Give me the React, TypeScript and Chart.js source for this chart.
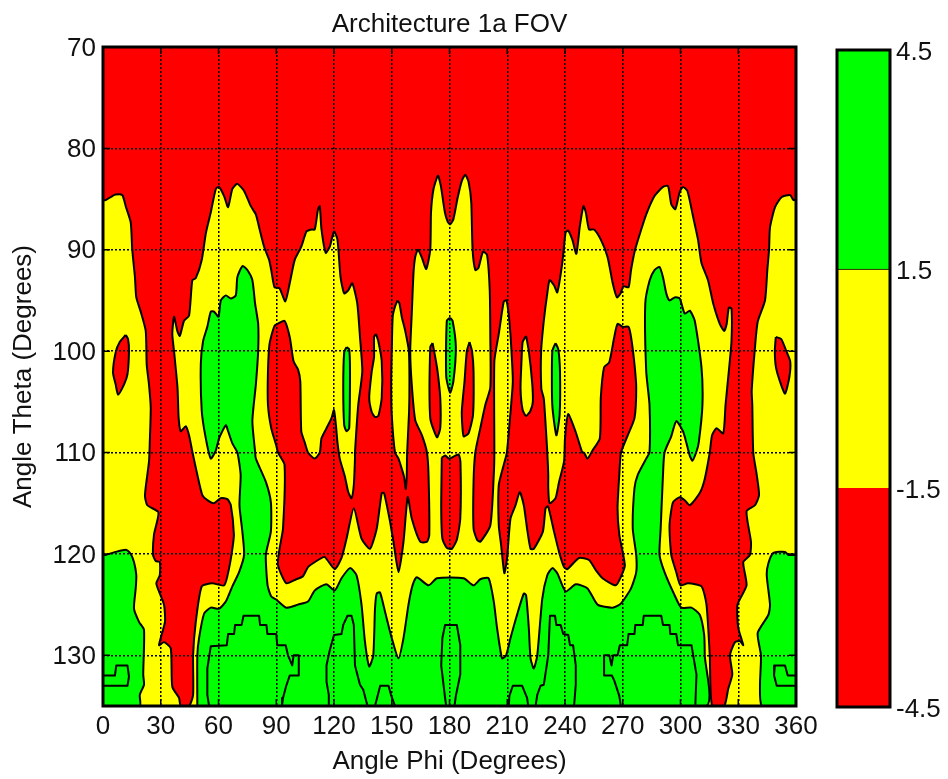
import React, { useEffect, useRef } from "react";
import { Chart, registerables } from "chart.js";

Chart.register(...registerables);

const chartTitle = "Architecture 1a FOV";
const xAxisTitle = "Angle Phi (Degrees)";
const yAxisTitle = "Angle Theta (Degrees)";
const phiRange = [0, 360];
const thetaRange = [70, 135];
const colorTicks = [-4.5, -1.5, 1.5, 4.5];
const colorBands = [
  { range: [-4.5, -1.5], color: "#ff0000" },
  { range: [-1.5, 1.5], color: "#ffff00" },
  { range: [1.5, 4.5], color: "#00ff00" },
];

const RED = "#ff0000";
const YELLOW = "#ffff00";
const GREEN = "#00ff00";

type P = number[];

const fieldOutline: P[] = [[0, 70], [360, 70], [360, 135], [0, 135]];

// boundary between red and yellow (level -1.5)
const yellowContour: P[] = [
  [0, 85.1], [1.4, 85.1], [4.9, 84.7], [6.6, 84.55], [10, 84.6], [11.8, 85.7], [14.4, 87.3], [15.2, 90], [16.6, 92.7], [17.3, 94.7], [19.6, 96.1], [22.2, 98], [22.7, 101.3], [23.9, 103.3], [24.8, 105.6], [24.3, 109], [23.9, 110.9], [21.8, 114.2], [23, 115.2], [28.8, 115.9], [26.5, 118.1], [26, 120.1], [27.4, 120.7], [29.5, 120.8], [29.5, 122.1], [27.7, 122.9], [29.1, 123.7], [31.7, 125], [32.2, 126.7], [29.1, 129], [31.7, 128.7], [35.2, 129.3], [36, 133.1], [39.5, 134.2], [40.4, 135],
  [44.7, 135], [46.8, 133.9], [46.8, 130], [48.2, 126.7], [51.3, 123.2], [56.8, 122.9], [63, 123.1], [65.5, 121.4], [67.2, 119.5], [68, 118.1], [66.4, 115.2], [64.6, 114.6], [61.2, 114.5], [57.7, 115], [54.2, 114.7], [51.6, 114.2], [49, 112.2], [46.4, 109.9], [44.7, 108.3], [43, 107.4], [40.4, 107.9], [39.3, 106.6], [38.7, 103.6], [36.9, 100], [36, 98.3], [36.9, 96.6], [38.6, 98], [39.9, 98.5], [42.1, 97], [44.7, 96.5], [46.4, 93], [48.2, 92.8], [51.3, 91], [53.5, 88.3], [56, 86.3], [58.6, 84], [60.3, 83.8], [62.9, 84.7], [65, 85.8], [67.2, 84], [69.8, 83.5], [73.3, 84.2], [76.8, 85.7], [79.4, 86.5], [81, 87.7], [83.7, 89.7], [86.3, 91], [87.4, 92], [89.1, 93.7], [91.7, 93.8], [94.7, 95.1], [97, 93.3], [99.6, 91], [103, 89.7], [105.7, 88.2], [108.3, 88], [110, 88], [111.7, 86], [112.6, 85.7], [113.5, 88], [115.7, 90.3], [117.8, 89.7], [120, 88.2], [121.8, 89], [123.4, 92.7], [125.3, 94.3], [127.4, 94], [129.5, 93.3], [132.1, 95.3], [133.5, 98.6], [134.7, 102], [132.6, 105.3], [130.9, 110], [130.9, 110.6], [130.3, 113.2], [129.1, 114.5],
  [127.4, 113.9], [125.7, 112.4], [123, 110.6], [121.8, 109], [121, 107.3], [120, 105.8], [118.7, 106.6], [116.1, 107.6], [113.5, 108.6], [112.6, 110], [110, 110.6], [106.5, 110], [104.8, 109], [103, 107.9], [102.5, 103], [101.3, 101.8], [99, 101], [97, 98.6], [94.3, 97], [91.7, 97.2], [89.1, 97.5], [86.5, 99.3], [85.7, 102], [85.7, 105.3], [87.4, 107.6], [90, 109.3], [90.9, 110], [94.3, 111.2], [93.5, 117.5], [91.7, 119.5], [90.9, 121.1], [95.2, 122.9], [100.4, 122.5], [103.9, 122.2], [106.5, 121.3], [112.6, 120.5], [115.2, 120.3], [120.4, 121.5], [123.9, 120.4], [126.5, 118.5], [130.3, 115.5], [134.3, 118.5], [138.7, 119.5], [142.2, 117.5], [144.8, 114], [146, 114], [149.1, 116.8], [150.9, 118.8], [153.5, 121.8], [156.1, 118.8], [158.3, 114.4], [160.4, 116.5], [164.8, 118.8], [168.3, 118.8], [169.5, 118.1], [169.1, 112.2], [168.3, 110], [165.7, 108.3], [162.2, 106.8], [160.4, 103.3], [159.6, 100], [160.4, 96.3], [161.3, 92.3], [162.2, 90.7], [163.6, 90], [165.7, 90.8], [167.9, 91.9], [170, 90], [170.4, 86.3], [171.7, 84], [174, 82.7], [175.5, 83.7], [177.6, 86.3], [179, 87.2], [180.3, 87.5], [182, 87], [184.2, 84.9], [186.4, 83.2], [188.2, 82.6], [189.9, 83.3], [191.3, 85.3], [192, 90], [193.4, 92], [195, 91.8], [197.4, 90.2], [199.5, 90.5], [200.9, 94], [201.2, 98.6], [201.2, 103.6], [198.6, 105.3], [196, 107.6], [193.4, 110], [192.5, 112.9], [192.5, 117.5], [194.3, 118.6], [196, 118.8], [201.2, 117.2], [203, 112.2], [203.3, 110], [203.3, 101], [205.6, 98.3], [208.2, 95.1], [209.6, 95], [211.1, 97], [212.2, 100], [212.9, 103], [211.7, 106], [209.8, 110], [208.2, 111.2], [205.6, 113.2], [205.6, 117.2], [206.8, 119.1], [208.5, 121.9], [209.9, 120.4], [211.7, 116.5], [214.3, 115.2], [216.5, 113.9], [218.6, 115.2], [220.3, 117.5], [222.1, 119.5], [223.8, 119.5], [228.5, 117.8], [229.9, 115.5], [231.2, 115.3],
  [234.3, 117.8], [236.9, 119.8], [239.5, 121.3], [241.2, 121.5], [247.3, 120.4], [252.5, 120.6], [256, 121.6], [259.5, 122.4], [266.4, 123.1], [269.4, 122.1], [271.1, 121.1], [268.2, 118.1], [267.3, 115.5], [268.2, 112.2], [269.1, 110], [272.6, 108.3], [276.1, 106.6], [277, 103.6], [276.1, 101.3], [274.3, 98.6], [273, 97.6], [270, 97.6], [267.3, 97.3], [265.6, 98.6], [263, 101.1], [260.3, 101.6], [258.6, 104.6], [258.1, 108.6], [254.3, 109.8], [251.7, 110.6], [249.9, 110], [249, 110], [245.6, 108], [241.6, 106.2], [240, 108.6], [239.5, 110.9], [236.9, 112.9], [235.1, 114.5], [232, 115], [231.3, 113.5], [231.3, 112.2], [230.8, 110], [229, 104.7], [227.7, 103.7], [227.6, 100], [229, 97], [230.8, 94.3], [232, 93], [234.3, 93.5], [236, 94.2], [238.6, 91.3], [240.3, 88.3], [241.6, 88.1], [243.8, 89], [245.9, 90.4], [247.7, 87.7], [249.6, 85.7], [250.8, 86.3], [252.5, 88], [255.1, 88], [258.6, 89], [262.1, 90.7], [264.8, 93.3], [267, 94.7], [268.9, 94.3], [270.3, 93.6], [273, 93.7], [274.3, 92], [276.4, 90], [279.6, 88], [282.2, 86.5], [286.5, 84.7], [290.9, 83.8], [293.5, 83.7], [295.2, 85.5], [297.3, 86], [299.6, 84.3], [301.3, 83.8], [303.6, 84.2], [306.5, 86.7], [309.1, 89], [310.9, 91.3], [314.3, 93], [317, 95.3], [320.4, 97.3], [322.7, 98], [324, 97.3], [325.1, 95.7], [326.5, 95.8], [326.5, 99], [325.1, 102], [323.4, 105.3], [322.2, 108.1], [318.7, 107.6], [316.4, 108.3], [315.2, 110], [312.6, 112.6], [310, 114], [304.8, 115.2], [302.2, 114.7], [299.6, 114.4], [296.1, 114.9], [294.3, 117.2], [295.2, 120.1], [297.8, 121.8], [300, 123.1], [303.9, 122.9], [310.9, 123.2], [313.5, 125], [315.2, 130], [316.4, 135],
  [322.7, 135], [324.8, 133.3], [326.9, 131.9], [325.7, 130], [328.3, 128.7], [330.9, 128.6], [332.6, 129], [330, 127.3], [329.6, 125], [334.3, 123.1], [332.6, 120.8], [336.1, 120.1], [336.6, 118.8], [334.3, 115.8], [338.7, 115.2], [340.8, 114.2], [339.6, 112.2], [337.8, 110], [337.3, 105.3], [337, 103.9], [338.7, 99.6], [340.1, 97.1], [343.9, 95], [345.1, 92], [346, 90], [346.5, 87.8], [349.1, 85.8], [352.6, 84.8], [356.9, 84.6], [358.7, 85.1], [360, 85.1], [360, 135], [0, 135], [0, 85.1],
];

const yellowSpike: P[] = [[153, 95], [151.7, 95.6], [150.5, 96.6], [150, 100], [149.7, 103.3], [150, 106.3], [151.7, 110], [153.5, 110.6], [155.2, 111.6], [156.4, 112.4], [157.3, 113.6], [157.8, 112.2], [158, 110], [159, 106], [159.2, 103], [158.9, 100], [157, 98], [155.2, 96.6], [154, 95.3], [153, 95]];
const yellowIslandA: P[] = [[141.8, 98.3], [140.8, 98.6], [140.8, 100.6], [139.6, 102], [138.3, 104.6], [139.6, 106], [141.3, 106.5], [143, 106.4], [144.8, 104.6], [144.8, 101], [143, 99], [141.8, 98.3]];
const yellowIslandB: P[] = [[219.8, 98.5], [218, 99.1], [217.4, 101], [216.9, 103.7], [218, 105.8], [219.8, 106.4], [222, 105.9], [223.3, 105], [222.9, 103], [221.2, 100], [219.8, 98.5]];

const redIslandA: P[] = [[11.8, 98.4], [8.7, 99.1], [6.6, 100.1], [5.2, 102.1], [6.6, 103.3], [7.8, 104.3], [10.9, 103.3], [12.7, 102.3], [13.5, 100], [13, 98.8], [11.8, 98.4]];
const redIslandB: P[] = [[171.2, 99.2], [170, 99.6], [170, 106.6], [173.5, 108.5], [175.2, 107.6], [175.2, 104.6], [173.8, 102], [172.6, 100.6], [171.2, 99.2]];
const redIslandC: P[] = [[176, 110.5], [177.8, 110.3], [179.8, 110.6], [184.7, 110.2], [185.7, 111], [185.6, 116.5], [183.8, 118.6], [181.2, 119.5], [178.6, 119.4], [176.3, 118.5], [175.7, 115.5], [176, 110.5]];
const redIslandD: P[] = [[190.4, 99.1], [189, 100], [187.8, 103], [186.4, 106], [187.3, 108.4], [189.9, 108.1], [192.2, 106.3], [192.5, 102], [191.7, 100], [190.4, 99.1]];
const redIslandE: P[] = [[349.5, 98.6], [352.3, 98.8], [355.2, 100.1], [357, 101], [356.6, 102.5], [354.3, 104.2], [351.7, 103], [349.6, 101.6], [349, 100], [349.5, 98.6]];

// boundary between yellow and green (level 1.5)
const greenContour: P[] = [
  [49, 135], [49, 130], [49.9, 128.3], [52.5, 125.9], [56, 125.3], [60.3, 125.4], [63.8, 124.7], [67.2, 123.2], [70.7, 121.8], [73.3, 120.1], [72.4, 117.8], [70.9, 115.2], [71.5, 112.2], [69.8, 110], [67.2, 109.1], [65, 107.9], [63.8, 107.3], [60.3, 108.6], [58.6, 109.8], [56, 110.6], [53.4, 108.6], [51.3, 105.9], [50.8, 101.3], [52, 99], [54.2, 97.6], [56, 96.1], [57.7, 96.1], [60, 96.6], [61.2, 95], [63.8, 94.5], [66.4, 94.8], [69, 94.5], [69.8, 92.7], [72.5, 91.6], [75, 92], [77.6, 93], [79, 95.3], [80.6, 97.3], [80.6, 100], [79.4, 103.3], [77.6, 106.9], [79, 109.9], [79.4, 110.6], [84.6, 112.9], [87.2, 114.9], [87.2, 117.8], [84.6, 120.1], [85.5, 123.1], [87.4, 124.2], [90, 124.5], [95.2, 125.3], [101.3, 125], [106.5, 124.7], [110, 123.6], [116, 123], [120.4, 123.6], [123.9, 122.4], [128.3, 121.4], [131.7, 122.1], [134.3, 125], [136.1, 128.7], [138.3, 131.1], [140.4, 130], [141.3, 125.4], [142.2, 123.9], [143.9, 123.8], [146.5, 125.7], [150, 128.3], [153.5, 130.3], [156.1, 128.3], [158.7, 125], [160.8, 123.1], [163, 122.3], [169.1, 123.1], [173.5, 122.4], [187.3, 122.4], [192.5, 123.1], [196, 122.5], [200.3, 122.4], [203, 124.7], [204.7, 127.3], [207.3, 130.3], [209.4, 130], [211.7, 128.3], [215.1, 126], [218.6, 123.9], [219.8, 124.1], [221.2, 127.3], [222.1, 130.3], [223.8, 131.3], [225.6, 130], [228.2, 124.4], [230.8, 122.1], [233.4, 121.4], [236, 121.9], [240.3, 123.7], [245.6, 123], [251.7, 123.4], [256.9, 125], [264.7, 125.3], [269, 124.9], [274.3, 123.4], [277, 121.8], [277, 120.1], [275.2, 117.5], [276.1, 113.5], [277.8, 112.2], [282.2, 110.6], [283.9, 110], [283.9, 105.3], [282.2, 102], [281.7, 95.3], [284, 93], [286.5, 92], [289.1, 91.7], [290.9, 92.7], [292.6, 94.3], [294.3, 95], [297, 94.7], [299.6, 94.8], [302.2, 96.3], [304.8, 96], [307.4, 97], [310.9, 101.6], [311.4, 105.3], [309.5, 109], [308.3, 109.9], [306.2, 110.8], [304.8, 110.3], [303, 109], [301.3, 107.9], [297.8, 106.9], [295.2, 108.4], [291.7, 110], [290.9, 112.2], [289.7, 117.5], [289.1, 120.1], [291.7, 121.8], [297, 124.1], [300.4, 125.3], [305.7, 125.3], [310, 126], [312.3, 128], [312.6, 130], [313, 135], [49, 135],
];
const greenCornerLeft: P[] = [[0, 120.1], [1.4, 120.1], [6.6, 119.8], [12.1, 119.6], [14.4, 120], [16.1, 120.8], [17.3, 122.1], [17, 123.4], [16.1, 125.4], [18.7, 126.7], [21.3, 127.5], [20.9, 131.9], [21.3, 132.9], [19.1, 133.9], [19.1, 135], [0, 135], [0, 120.1]];
const greenCornerRight: P[] = [[360, 120.1], [356, 120.1], [354.3, 119.8], [348.3, 119.9], [345.7, 120.9], [344.8, 122.1], [346.5, 125], [345.7, 126], [340.1, 127.8], [341.8, 130], [342.2, 135], [360, 135], [360, 120.1]];
const greenIslandA: P[] = [[126.5, 99.6], [125.3, 100.1], [124.8, 103.6], [125.3, 107.3], [126.5, 107.9], [127.9, 107.6], [128.3, 102], [127.9, 99.8], [126.5, 99.6]];
const greenIslandB: P[] = [[180.3, 96.7], [178.6, 97], [178.3, 102.5], [180.3, 104.1], [182, 103], [183.3, 99.6], [181.6, 97], [180.3, 96.7]];
const greenIslandC: P[] = [[235.1, 99.2], [233.4, 100], [233.4, 105.3], [235.5, 108.3], [237.2, 106.3], [237.4, 102], [236.5, 99.8], [235.1, 99.2]];

// inner contour lines inside the green area
const innerA: P[] = [[0, 132], [6.2, 132], [6.9, 131], [12.7, 131], [13.5, 132.1], [12.7, 133], [0, 133]];
const innerB: P[] = [[360, 132], [355.7, 132], [354.3, 131], [349, 131], [348.6, 132], [350, 133], [360, 133]];
const innerC: P[] = [[55.1, 135], [54.2, 133.9], [54.2, 131.3], [56, 129.1], [64.3, 129], [65, 127.9], [68.1, 127.9], [68.6, 127], [72, 127], [73, 126.1], [81.1, 126.1], [81.6, 127], [84.9, 127], [85.4, 127.9], [90, 127.9], [90.5, 129], [94.9, 129], [96.1, 130], [98.3, 131], [99, 130], [101.7, 130], [101.7, 132], [97, 132], [95.2, 133], [93.5, 134.2], [93, 135]];
const innerD: P[] = [[117.3, 135], [117.3, 133.9], [116.1, 132.6], [116.1, 131], [117.8, 129.5], [120, 128], [123.9, 127.9], [124.8, 127], [127, 126.1], [129.1, 126.1], [130.3, 127], [130.9, 131], [133.5, 132.9], [135.2, 133.4], [137.4, 135]];
const innerE: P[] = [[141.3, 135], [144, 133], [148.3, 133], [149.6, 133.9], [151.7, 135]];
const innerF: P[] = [[178.3, 135], [177.7, 134.2], [175.7, 131], [176.3, 128.3], [177.7, 127], [183.8, 127], [185.6, 129], [185.6, 131.9], [183.3, 134], [182.6, 135]];
const innerG: P[] = [[210.8, 135], [211.1, 134], [212.9, 133], [217.7, 133], [220.3, 134.2], [220.9, 135]];
const innerH: P[] = [[224.7, 135], [225.6, 133.9], [227.3, 133], [229, 132.9], [231.3, 130], [232.2, 126.1], [234.8, 126.1], [235.5, 127], [237.7, 127], [239.1, 127.9], [241.7, 128], [242.6, 129], [244.2, 129], [245.6, 131], [245.6, 132.9], [244.7, 135]];
const innerI: P[] = [[269, 135], [268.2, 134], [265.6, 132.5], [264.4, 132], [260.7, 132], [260.3, 130], [263, 130], [264.2, 131], [265, 130], [267.3, 130], [268.5, 129], [272.3, 129], [273, 127.9], [276.1, 127.9], [276.5, 127], [280.4, 127], [280.9, 126.1], [290, 126.1], [290.9, 127], [294.3, 127], [294.7, 127.9], [297.8, 127.9], [298.7, 129], [305.7, 129], [308.3, 131.9], [307.7, 135]];

const shapes: { pts: P[]; fill?: string; smooth?: boolean }[] = [
  { pts: fieldOutline, fill: RED },
  { pts: yellowContour, fill: YELLOW, smooth: true },
  { pts: yellowSpike, fill: YELLOW, smooth: true },
  { pts: yellowIslandA, fill: YELLOW, smooth: true },
  { pts: yellowIslandB, fill: YELLOW, smooth: true },
  { pts: redIslandA, fill: RED, smooth: true },
  { pts: redIslandB, fill: RED, smooth: true },
  { pts: redIslandC, fill: RED, smooth: true },
  { pts: redIslandD, fill: RED, smooth: true },
  { pts: redIslandE, fill: RED, smooth: true },
  { pts: greenContour, fill: GREEN, smooth: true },
  { pts: greenCornerLeft, fill: GREEN, smooth: true },
  { pts: greenCornerRight, fill: GREEN, smooth: true },
  { pts: greenIslandA, fill: GREEN, smooth: true },
  { pts: greenIslandB, fill: GREEN, smooth: true },
  { pts: greenIslandC, fill: GREEN, smooth: true },
  { pts: innerA },
  { pts: innerB },
  { pts: innerC },
  { pts: innerD },
  { pts: innerE },
  { pts: innerF },
  { pts: innerG },
  { pts: innerH },
  { pts: innerI },
];

const FONT = { family: "'Liberation Sans', Arial, sans-serif", size: 26 };
const INK = "#111111";

const framePlugin = {
  id: "frame",
  afterDraw(chart: any) {
    const { ctx, chartArea: a, scales } = chart;
    ctx.save();
    ctx.strokeStyle = "#000";
    ctx.lineWidth = 3;
    ctx.strokeRect(a.left, a.top, a.right - a.left, a.bottom - a.top);
    if (scales.x && scales.x.type === "linear") {
      ctx.lineWidth = 1.5;
      ctx.beginPath();
      for (const t of scales.x.ticks) {
        const p = scales.x.getPixelForValue(t.value);
        ctx.moveTo(p, a.bottom);
        ctx.lineTo(p, a.bottom - 7);
        ctx.moveTo(p, a.top);
        ctx.lineTo(p, a.top + 7);
      }
      for (const t of scales.y.ticks) {
        const p = scales.y.getPixelForValue(t.value);
        ctx.moveTo(a.left, p);
        ctx.lineTo(a.left + 7, p);
        ctx.moveTo(a.right, p);
        ctx.lineTo(a.right - 7, p);
      }
      ctx.stroke();
    }
    ctx.restore();
  },
};

export default function App() {
  const mainRef = useRef<HTMLCanvasElement>(null);
  const barRef = useRef<HTMLCanvasElement>(null);

  useEffect(() => {
    const main = new Chart(mainRef.current as any, {
      type: "scatter",
      plugins: [framePlugin],
      data: {
        datasets: shapes.map((s, i) => ({
          data: s.pts.map(([x, y]) => ({ x, y })),
          showLine: true,
          pointRadius: 0,
          pointHoverRadius: 0,
          tension: s.smooth ? 0.2 : 0,
          borderColor: "#000",
          borderWidth: 2,
          borderJoinStyle: "round",
          fill: s.fill ? "shape" : false,
          backgroundColor: s.fill || "transparent",
          order: shapes.length - i,
        })),
      } as any,
      options: {
        animation: false,
        responsive: false,
        layout: { padding: { right: 152, left: 0, top: 0, bottom: 0 } },
        plugins: {
          legend: { display: false },
          tooltip: { enabled: false },
          title: {
            display: true,
            text: chartTitle,
            fullSize: false,
            color: INK,
            font: { ...FONT, weight: "normal" },
            padding: { top: 9, bottom: 6.8 },
          },
        },
        scales: {
          x: {
            type: "linear",
            min: phiRange[0],
            max: phiRange[1],
            afterBuildTicks: (axis: any) => {
              axis.ticks = Array.from({ length: 13 }, (_, i) => ({ value: i * 30 }));
            },
            afterFit: (s: any) => {
              s.height = 73;
            },
            grid: { color: "#000", lineWidth: 1.5, z: 1, drawTicks: false },
            border: { display: false, dash: [2, 2] },
            ticks: { color: INK, font: FONT, padding: 5, maxRotation: 0, autoSkip: false },
            title: { display: true, text: xAxisTitle, color: INK, font: FONT, padding: { top: 0, bottom: 2 } },
          },
          y: {
            type: "linear",
            reverse: true,
            min: thetaRange[0],
            max: thetaRange[1],
            afterBuildTicks: (axis: any) => {
              axis.ticks = [70, 80, 90, 100, 110, 120, 130].map((value) => ({ value }));
            },
            afterFit: (s: any) => {
              s.width = 103;
            },
            grid: { color: "#000", lineWidth: 1.5, z: 1, drawTicks: false },
            border: { display: false, dash: [2, 2] },
            ticks: { color: INK, font: FONT, padding: 7, autoSkip: false, labelOffset: 1.5 },
            title: { display: true, text: yAxisTitle, color: INK, font: FONT, padding: { top: 8, bottom: 0 } },
          },
        },
      } as any,
    });

    const bar = new Chart(barRef.current as any, {
      type: "bar",
      plugins: [framePlugin],
      data: {
        labels: [""],
        datasets: colorBands.map((b) => ({
          data: [b.range],
          backgroundColor: b.color,
          borderColor: "#000",
          borderWidth: 1.2,
          barPercentage: 1,
          categoryPercentage: 1,
        })),
      } as any,
      options: {
        animation: false,
        responsive: false,
        layout: { padding: { left: 837, top: 50, bottom: 72, right: 0 } },
        plugins: { legend: { display: false }, tooltip: { enabled: false } },
        scales: {
          x: { stacked: true, display: false },
          y: {
            position: "right",
            min: colorTicks[0],
            max: colorTicks[colorTicks.length - 1],
            afterBuildTicks: (axis: any) => {
              axis.ticks = colorTicks.map((value) => ({ value }));
            },
            afterFit: (s: any) => {
              s.width = 58;
            },
            grid: { display: false, drawTicks: false },
            border: { display: false },
            ticks: {
              color: INK,
              font: FONT,
              padding: 6,
              autoSkip: false,
              labelOffset: 2.5,
              callback: (v: any) => Number(v).toFixed(1),
            },
          },
        },
      } as any,
    });

    return () => {
      main.destroy();
      bar.destroy();
    };
  }, []);

  const abs: React.CSSProperties = { position: "fixed", left: 0, top: 0 };
  return (
    <div style={{ ...abs, width: 948, height: 779, background: "#fff", overflow: "hidden" }}>
      <canvas ref={mainRef} width={948} height={779} style={abs} />
      <canvas ref={barRef} width={948} height={779} style={abs} />
    </div>
  );
}
